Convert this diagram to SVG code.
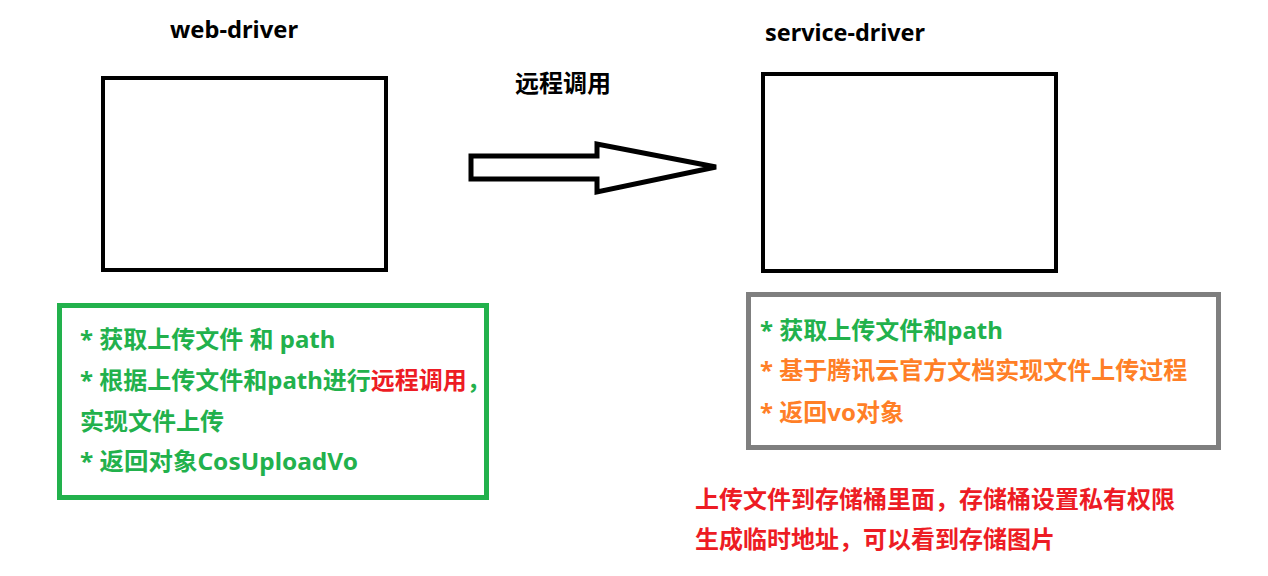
<svg xmlns="http://www.w3.org/2000/svg" width="1268" height="576" viewBox="0 0 1268 576">
<style>
text{font-family:"Microsoft YaHei","Noto Sans","Noto Sans CJK SC",sans-serif;font-weight:bold;font-size:24px}
.t{fill:#000}
.g{fill:#22B14C}
.o{fill:#FF7F27}
.r{fill:#ED1C24}
.box{fill:#fff;stroke:#000;stroke-width:4}
</style>
<rect width="1268" height="576" fill="#fff"/>
<g id="web-driver">
<text class="t" x="170" y="38" textLength="128" lengthAdjust="spacingAndGlyphs">web-driver</text>
<rect class="box" x="103" y="78" width="283" height="192"/>
</g>
<g id="service-driver">
<text class="t" x="765" y="41" textLength="160" lengthAdjust="spacingAndGlyphs">service-driver</text>
<rect class="box" x="763" y="74" width="293" height="197"/>
</g>
<g id="connectors">
<polygon points="471,156 597,156 597,144 716,167 597,192 597,179 471,179" fill="#fff" stroke="#000" stroke-width="5" stroke-linejoin="miter"/>
<text class="t" x="515" y="92" font-size="23">远程调用</text>
</g>
<g id="web-notes">
<rect x="59.5" y="305.5" width="427" height="192" fill="none" stroke="#22B14C" stroke-width="5"/>
<text class="g" x="80" y="348">* 获取上传文件 和 path</text>
<text class="g" x="80" y="389">* 根据上传文件和path进行<tspan class="r">远程调用</tspan>，</text>
<text class="g" x="80" y="430">实现文件上传</text>
<text class="g" x="80" y="470" textLength="278" lengthAdjust="spacingAndGlyphs">* 返回对象CosUploadVo</text>
</g>
<g id="service-notes">
<rect x="748.5" y="294.5" width="470" height="153" fill="none" stroke="#7F7F7F" stroke-width="5"/>
<text class="g" x="760" y="339">* 获取上传文件和path</text>
<text class="o" x="760" y="379">* 基于腾讯云官方文档实现文件上传过程</text>
<text class="o" x="760" y="421">* 返回vo对象</text>
</g>
<g id="storage-note">
<text class="r" x="695" y="508">上传文件到存储桶里面，存储桶设置私有权限</text>
<text class="r" x="695" y="548">生成临时地址，可以看到存储图片</text>
</g>
</svg>
